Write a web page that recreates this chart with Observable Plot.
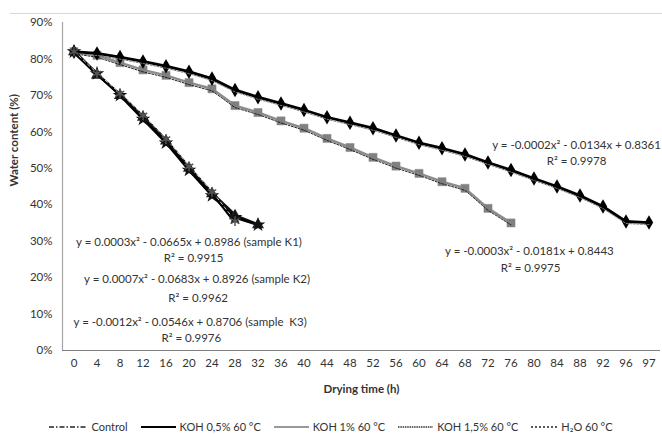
<!DOCTYPE html>
<html><head><meta charset="utf-8">
<script src="https://cdn.jsdelivr.net/npm/d3@7"></script>
<script src="https://cdn.jsdelivr.net/npm/@observablehq/plot@0.6"></script>
<style>
body{margin:0;background:#fff;font-family:Lato,"Open Sans",sans-serif;color:#333}
#wrap{position:relative;width:662px;height:435px;overflow:hidden;background:#fff}
#topline{position:absolute;left:10px;right:0;top:13px;height:1px;background:#d9d9d9}
#chart{position:absolute;left:0;top:0}
#legend{position:absolute;top:420px;left:0;width:662px;display:flex;justify-content:center;align-items:center;gap:13px;font-size:11px;color:#333;padding-left:0}
#legend .it{display:flex;align-items:center;gap:4px;white-space:nowrap}
</style></head>
<body><div id="wrap"><div id="topline"></div><div id="chart"></div><div id="legend"></div></div>
<script>
// Categories (x axis tick labels)
const hours = [0,4,8,12,16,20,24,28,32,36,40,44,48,52,56,60,64,68,72,76,80,84,88,92,96,97];
// Water content (%) per series
const koh05 = [82,81.5,80.5,79.3,78,76.5,74.6,71.5,69.5,67.8,66,64,62.5,61,59,57,55.5,53.8,51.6,49.5,47.2,45,42.5,39.5,35.4,35.1];
const koh1  = [82,81,79,77,75.5,73.5,71.8,67.2,65.3,63,61,58.2,55.7,53,50.6,48.6,46.3,44.5,39,35];
const sampleK1 = [82,76,70.5,64.5,58,50.5,43.5,35.5];
const sampleK2 = [82,75.5,70,64,57.5,50,43,37,34.5];
const sampleK3 = [82,76,70,63.5,57,49.5,42.5,36.5,34.5];
// Legend labels
const legendLabels = ["Control","KOH 0,5% 60 °C","KOH 1% 60 °C","KOH 1,5% 60 °C","H\u2082O 60 °C"];
// Trendline equation labels (anchored in data space: x index, y %)
const eqTexts = [
  ["y = -0.0002x\u00b2 - 0.0134x + 0.8361", 21.85, 56.3],
  ["R\u00b2 = 0.9978", 21.85, 51.9],
  ["y = -0.0003x\u00b2 - 0.0181x + 0.8443", 19.8, 27.2],
  ["R\u00b2 = 0.9975", 19.85, 22.5],
  ["y = 0.0003x\u00b2 - 0.0665x + 0.8986 (sample K1)", 5.0, 29.6],
  ["R\u00b2 = 0.9915", 5.2, 25.2],
  ["y = 0.0007x\u00b2 - 0.0683x + 0.8926 (sample K2)", 5.35, 19.6],
  ["R\u00b2 = 0.9962", 5.4, 14.3],
  ["y = -0.0012x\u00b2 - 0.0546x + 0.8706 (sample  K3)", 5.05, 7.7],
  ["R\u00b2 = 0.9976", 5.1, 3.3]
];

const toRows = arr => arr.map((v, i) => ({i, v}));
const r05 = toRows(koh05), r1 = toRows(koh1), rK1 = toRows(sampleK1), rK2 = toRows(sampleK2), rK3 = toRows(sampleK3);
const eqRows = eqTexts.map(([t, x, y]) => ({t, x, y}));

const chart = Plot.plot({
  width: 662, height: 405,
  marginLeft: 62, marginRight: 2, marginTop: 22, marginBottom: 55,
  style: {fontFamily: "Lato, 'Open Sans', sans-serif", fontSize: "11px", color: "#333", background: "transparent", overflow: "visible"},
  x: {type: "linear", domain: [-0.5, hours.length - 0.5], axis: null},
  y: {domain: [0, 90], axis: null},
  marks: [
    Plot.axisY(d3.range(0, 91, 10), {tickSize: 0, tickPadding: 10, tickFormat: d => d + "%", label: null, fontSize: 11.5, fill: "#333"}),
    Plot.axisX(d3.range(hours.length), {tickSize: 0, tickPadding: 8, tickFormat: i => hours[i], label: null, fontSize: 11.5, fill: "#333"}),
    Plot.ruleX([-0.5], {stroke: "#a6a6a6", strokeWidth: 1.2}),
    Plot.ruleY([0], {stroke: "#7f7f7f", strokeWidth: 1.2}),
    // KOH 1% series (gray squares)
    Plot.line(r1, {x: "i", y: "v", stroke: "#8c8c8c", strokeWidth: 2.5}),
    Plot.dot(r1, {x: "i", y: "v", symbol: "square", r: 4.6, fill: "#808080", stroke: "#8c8c8c", strokeWidth: 0.5}),
    Plot.line(r1, {x: "i", y: "v", stroke: "#222", strokeWidth: 1, strokeDasharray: "2,1.5", dy: 2}),
    // KOH 0.5% series (black diamonds)
    Plot.line(r05, {x: "i", y: "v", stroke: "#000", strokeWidth: 2.8}),
    Plot.dot(r05, {x: "i", y: "v", symbol: "diamond", r: 4.4, fill: "#000"}),
    Plot.line(r05, {x: "i", y: "v", stroke: "#777", strokeWidth: 1, strokeDasharray: "2,1.5", dy: 2}),
    // fast samples
    Plot.line(rK1, {x: "i", y: "v", stroke: "#000", strokeWidth: 2.5, dx: -1}),
    Plot.line(rK2, {x: "i", y: "v", stroke: "#111", strokeWidth: 2.5, dx: 1}),
    Plot.line(rK3, {x: "i", y: "v", stroke: "#000", strokeWidth: 2.5}),
    Plot.line(rK1, {x: "i", y: "v", stroke: "#fff", strokeWidth: 0.8, strokeDasharray: "3,3", dx: 0.5}),
    Plot.dot(rK2, {x: "i", y: "v", symbol: "triangle", r: 4.5, fill: "#222"}),
    Plot.dot(rK3, {x: "i", y: "v", symbol: "star", r: 4.6, fill: "#111"}),
    Plot.dot(rK1, {x: "i", y: "v", symbol: "asterisk", r: 4.6, stroke: "#555", strokeWidth: 1.5}),
    // trendline equations
    Plot.text(eqRows, {x: "x", y: "y", text: "t", textAnchor: "middle", fill: "#333", fontSize: 11.5}),
    // axis titles
    Plot.text(["Drying time (h)"], {frameAnchor: "bottom", dy: 42, fontWeight: "bold", fontSize: 11.5, fill: "#333"}),
    Plot.text(["Water content (%)"], {frameAnchor: "left", dx: -48, rotate: -90, fontWeight: "bold", fontSize: 11.5, fill: "#333"})
  ]
});
document.getElementById("chart").appendChild(chart);

// legend
const styles = [
  {stroke: "#222", w: 1.3, dash: "5,2,1.5,2", len: 38},
  {stroke: "#000", w: 2.2, dash: null, len: 35},
  {stroke: "#999", w: 2.2, dash: null, len: 35},
  {stroke: "#333", w: 1.3, dash: "1.5,0.8", len: 35},
  {stroke: "#222", w: 1.3, dash: "2,2", len: 26}
];
const leg = d3.select("#legend");
legendLabels.forEach((lab, k) => {
  const s = styles[k];
  const it = leg.append("div").attr("class", "it");
  const sv = it.append("svg").attr("width", s.len).attr("height", 8);
  sv.append("line").attr("x1", 0).attr("x2", s.len).attr("y1", 4).attr("y2", 4)
    .attr("stroke", s.stroke).attr("stroke-width", s.w).attr("stroke-dasharray", s.dash);
  it.append("span").text(lab);
});
</script></body></html>
